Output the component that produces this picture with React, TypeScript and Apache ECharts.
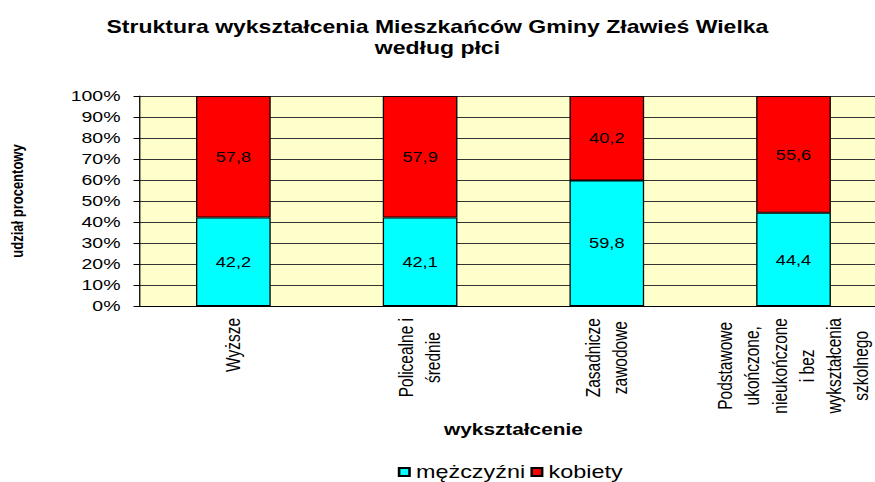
import React, { useEffect, useRef } from 'react';
import * as echarts from 'echarts';

const categories = [
  'Wyższe',
  'Policealne i\nśrednie',
  'Zasadnicze\nzawodowe',
  'Podstawowe\nukończone,\nnieukończone\ni bez\nwykształcenia\nszkolnego',
];
const seriesNames = ['mężczyźni', 'kobiety'];
const menValues = [42.2, 42.1, 59.8, 44.4];
const womenValues = [57.8, 57.9, 40.2, 55.6];
const yMin = 0;
const yMax = 100;
const yStep = 10;
const titleText = 'Struktura wykształcenia Mieszkańców Gminy Zławieś Wielka\nwedług płci';
const xAxisName = 'wykształcenie';
const yAxisName = 'udział procentowy';

const STRETCH = 1.3;
const PAGE_W = 875;
const PAGE_H = 482;
const BASE_W = PAGE_W / STRETCH;
const FONT = '"Liberation Sans", Arial, Helvetica, sans-serif';

export default function App() {
  const ref = useRef<HTMLDivElement>(null);

  useEffect(() => {
    if (!ref.current) return;
    const chart = echarts.init(ref.current, undefined, { renderer: 'svg' });
    const fmtVal = (p: any) => Number(p.value).toFixed(1).replace('.', ',');
    chart.setOption({
      animation: false,
      textStyle: { fontFamily: FONT, color: '#000' },
      title: {
        text: titleText,
        left: 'center',
        top: 11,
        textStyle: { fontFamily: FONT, fontSize: 17.7, fontWeight: 'bold', lineHeight: 21, color: '#000' },
      },
      legend: {
        data: seriesNames,
        left: 306,
        top: 463,
        padding: 0,
        icon: 'rect',
        itemWidth: 8,
        itemHeight: 8,
        itemGap: 4,
        textStyle: { fontFamily: FONT, fontSize: 18, lineHeight: 17, color: '#000' },
      },
      grid: {
        left: 107.7,
        right: BASE_W - 682.3,
        top: 96,
        bottom: PAGE_H - 306,
        outerBoundsMode: 'none',
        containLabel: false,
        show: true,
        backgroundColor: '#FFFFCC',
        borderWidth: 0,
      },
      xAxis: {
        type: 'category',
        data: categories,
        name: xAxisName,
        nameLocation: 'middle',
        nameGap: 115,
        nameTextStyle: { fontFamily: FONT, fontWeight: 'bold', fontSize: 16, color: '#000' },
        axisLine: { lineStyle: { color: '#000', width: 1 } },
        axisTick: { length: 5, lineStyle: { color: '#000' } },
        axisLabel: {
          rotate: 90,
          interval: 0,
          margin: 12,
          color: '#000',
          fontFamily: FONT,
          fontSize: 15.5,
          lineHeight: 21,
          formatter: (v: string) => v.split('\n').map((l) => `{c|${l}}`).join('\n'),
          rich: { c: { align: 'center', fontFamily: FONT, fontSize: 15.5, lineHeight: 21, color: '#000' } },
        },
      },
      yAxis: {
        type: 'value',
        min: yMin,
        max: yMax,
        interval: yStep,
        name: yAxisName,
        nameLocation: 'middle',
        nameRotate: 90,
        nameGap: 88,
        nameTextStyle: { fontFamily: FONT, fontWeight: 'bold', fontSize: 13, color: '#000' },
        axisLine: { show: true, lineStyle: { color: '#000', width: 1 } },
        axisTick: { show: true, length: 5, lineStyle: { color: '#000' } },
        axisLabel: { formatter: '{value}%', fontFamily: FONT, fontSize: 15, margin: 15, color: '#000' },
        splitLine: { show: true, lineStyle: { color: '#333', width: 1 } },
      },
      series: [
        {
          name: seriesNames[0],
          type: 'bar',
          stack: 'total',
          data: menValues,
          barWidth: '40%',
          itemStyle: { color: '#00FFFF', borderColor: '#000', borderWidth: 1 },
          label: { show: true, position: 'inside', formatter: fmtVal, fontFamily: FONT, fontSize: 14, color: '#000' },
        },
        {
          name: seriesNames[1],
          type: 'bar',
          stack: 'total',
          data: womenValues,
          barWidth: '40%',
          itemStyle: { color: '#FF0000', borderColor: '#000', borderWidth: 1 },
          label: { show: true, position: 'inside', formatter: fmtVal, fontFamily: FONT, fontSize: 14, color: '#000' },
        },
      ],
    });
    return () => chart.dispose();
  }, []);

  return (
    <div style={{ position: 'fixed', left: 0, top: 0, width: PAGE_W, height: PAGE_H, overflow: 'hidden', background: '#fff' }}>
      <div
        ref={ref}
        style={{ width: BASE_W, height: PAGE_H, transform: `scaleX(${STRETCH})`, transformOrigin: '0 0' }}
      />
    </div>
  );
}
